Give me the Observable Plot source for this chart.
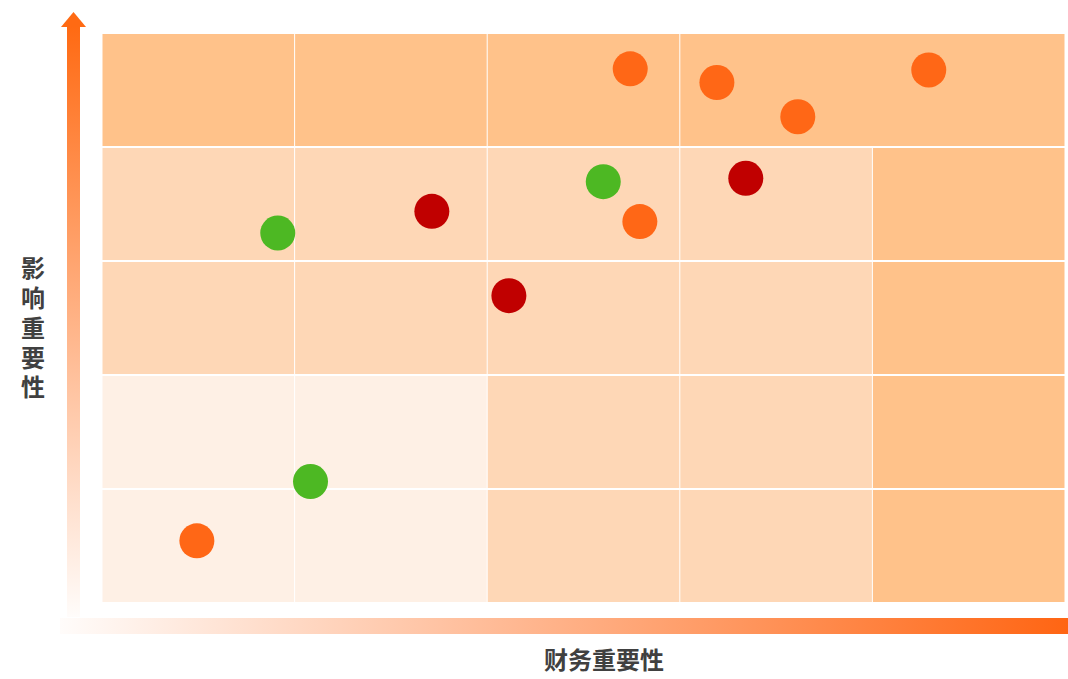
<!DOCTYPE html>
<html>
<head>
<meta charset="utf-8">
<script src="https://cdn.jsdelivr.net/npm/d3@7"></script>
<script src="https://cdn.jsdelivr.net/npm/@observablehq/plot@0.6"></script>
<style>
  html, body { margin: 0; padding: 0; background: #fff; }
  #chart svg { display: block; }
</style>
</head>
<body>
<div id="chart"></div>
<script>
// ---- Data ----
const xLabel = "财务重要性";
const yLabel = "影响重要性";

// grid cells: column range, row range, intensity level (0 light, 1 medium, 2 dark)
const cellX1 = [0,1,2,3, 0,1,2,3,4, 0,1,2,3,4, 0,1,2,3,4, 0,1,2,3,4];
const cellX2 = [1,2,3,5, 1,2,3,4,5, 1,2,3,4,5, 1,2,3,4,5, 1,2,3,4,5];
const cellRow = [4,4,4,4, 3,3,3,3,3, 2,2,2,2,2, 1,1,1,1,1, 0,0,0,0,0];
const cellLevel = [2,2,2,2, 1,1,1,1,2, 1,1,1,1,2, 0,0,1,1,2, 0,0,1,1,2];
const levelColors = ["#FEF0E5", "#FED7B6", "#FFC28A"];

// points
const pointX = [2.74, 3.19, 3.61, 4.29, 2.79, 0.49, 0.91, 2.60, 1.08, 1.71, 3.34, 2.11];
const pointY = [4.69, 4.57, 4.27, 4.68, 3.35, 0.55, 3.25, 3.70, 1.07, 3.44, 3.73, 2.70];
const pointGroup = ["o","o","o","o","o","o","g","g","g","r","r","r"];
const groupColors = {o: "#FF6716", g: "#4DB823", r: "#C00000"};

const cells = cellX1.map((x1, i) => ({
  x1, x2: cellX2[i], y1: cellRow[i], y2: cellRow[i] + 1, fill: levelColors[cellLevel[i]]
}));
const points = pointX.map((x, i) => ({x, y: pointY[i], fill: groupColors[pointGroup[i]]}));

(function () {
const W = 1068, H = 679;
const plot = Plot.plot({
  width: W,
  height: H,
  marginLeft: 102,
  marginRight: 3,
  marginTop: 33,
  marginBottom: 76,
  x: {domain: [0, 5], axis: null},
  y: {domain: [0, 5], axis: null},
  marks: [
    Plot.rect(cells, {
      x1: "x1", x2: "x2", y1: "y1", y2: "y2", fill: "fill",
      insetLeft: 0.5, insetRight: 0.5, insetTop: 1, insetBottom: 1
    }),
    Plot.dot(points, {x: "x", y: "y", r: 17.5, fill: "fill", stroke: "none"})
  ]
});

const svg = d3.select(plot);
const xs = plot.scale("x"), ys = plot.scale("y");
const gLeft = xs.apply(0), gBottom = ys.apply(0), gTop = ys.apply(5);

const defs = svg.insert("defs", ":first-child");
const gy = defs.append("linearGradient").attr("id", "gy")
  .attr("x1", 0).attr("y1", 0).attr("x2", 0).attr("y2", 1);
gy.append("stop").attr("offset", "0%").attr("stop-color", "#FF6A13");
gy.append("stop").attr("offset", "100%").attr("stop-color", "#FF6A13").attr("stop-opacity", 0.02);
const gx = defs.append("linearGradient").attr("id", "gx")
  .attr("x1", 0).attr("y1", 0).attr("x2", 1).attr("y2", 0);
gx.append("stop").attr("offset", "0%").attr("stop-color", "#FF6513").attr("stop-opacity", 0.02);
gx.append("stop").attr("offset", "100%").attr("stop-color", "#FF6513");

const deco = svg.append("g");
// vertical axis arrow
const ax = gLeft - 28.5; // centre of bar
deco.append("rect").attr("x", ax - 6.5).attr("y", gTop - 7).attr("width", 13)
  .attr("height", gBottom + 14 - (gTop - 7)).attr("fill", "url(#gy)");
deco.append("path")
  .attr("d", `M${ax},${gTop - 21} L${ax + 12.5},${gTop - 6} L${ax - 12.5},${gTop - 6} Z`)
  .attr("fill", "#FF6A13");
// horizontal axis bar
deco.append("rect").attr("x", gLeft - 42).attr("y", gBottom + 15).attr("width", W - (gLeft - 42))
  .attr("height", 16).attr("fill", "url(#gx)");

// labels
deco.append("text")
  .attr("x", gLeft + 502).attr("y", gBottom + 59)
  .attr("text-anchor", "middle").attr("dominant-baseline", "middle")
  .attr("font-family", "'Noto Sans CJK SC', sans-serif").attr("font-weight", "bold")
  .attr("font-size", 24).attr("fill", "#404040").text(xLabel);
deco.append("text")
  .attr("x", 33).attr("y", 256)
  .attr("writing-mode", "vertical-rl")
  .attr("letter-spacing", 5.8)
  .attr("text-anchor", "start")
  .attr("font-family", "'Noto Sans CJK SC', sans-serif").attr("font-weight", "bold")
  .attr("font-size", 24).attr("fill", "#404040").text(yLabel);

document.getElementById("chart").appendChild(plot);
})();
</script>
</body>
</html>
